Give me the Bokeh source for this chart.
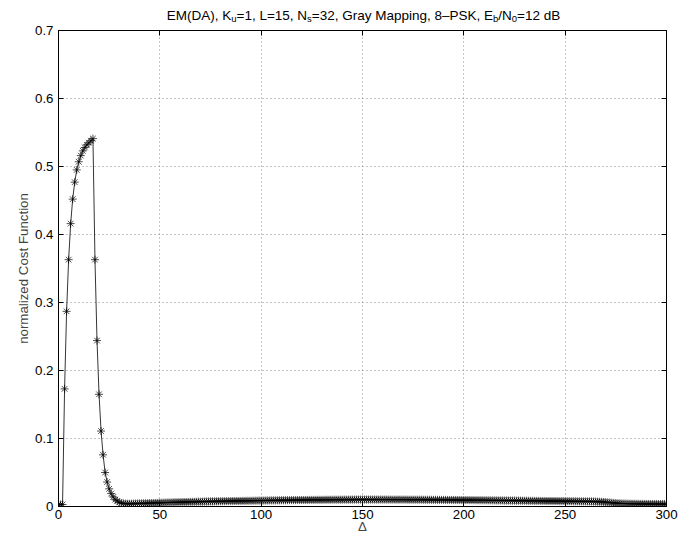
from bokeh.plotting import figure
from bokeh.layouts import column
from bokeh.models import (LinearAxis, FixedTicker, NumeralTickFormatter,
                          Range1d, CustomJSTickFormatter, ColumnDataSource)
from bokeh.core.properties import value
from bokeh.embed import file_html
from bokeh.resources import INLINE

# ---------------- data ----------------
x_ticks = [0, 50, 100, 150, 200, 250, 300]
y_ticks = [0, 0.1, 0.2, 0.3, 0.4, 0.5, 0.6, 0.7]

delta = list(range(0, 301))
cost = [
    0.003, 0.003, 0.003, 0.173, 0.287, 0.363, 0.416, 0.452, 0.477, 0.495,
    0.507, 0.516, 0.523, 0.528, 0.532, 0.535, 0.538, 0.541, 0.363, 0.244,
    0.165, 0.111, 0.076, 0.050, 0.036, 0.026, 0.019, 0.014, 0.010, 0.008,
    0.006, 0.005, 0.0045, 0.0042, 0.004, 0.004, 0.0041, 0.0042, 0.0043, 0.0044,
    0.0045, 0.0046, 0.0047, 0.0048, 0.0049, 0.005, 0.0051, 0.0052, 0.0053, 0.0054,
    0.0055, 0.0056, 0.0057, 0.0058, 0.0059, 0.006, 0.0061, 0.0062, 0.0062, 0.0063,
    0.0064, 0.0065, 0.0066, 0.0066, 0.0067, 0.0068, 0.0069, 0.0069, 0.007, 0.0071,
    0.0071, 0.0072, 0.0073, 0.0073, 0.0074, 0.0075, 0.0075, 0.0076, 0.0076, 0.0077,
    0.0077, 0.0078, 0.0078, 0.0079, 0.0079, 0.008, 0.008, 0.0081, 0.0081, 0.0082,
    0.0082, 0.0083, 0.0083, 0.0084, 0.0084, 0.0085, 0.0085, 0.0086, 0.0086, 0.0087,
    0.0087, 0.0088, 0.0088, 0.0089, 0.0089, 0.009, 0.009, 0.009, 0.0091, 0.0091,
    0.0092, 0.0092, 0.0092, 0.0093, 0.0093, 0.0094, 0.0094, 0.0094, 0.0095, 0.0095,
    0.0095, 0.0096, 0.0096, 0.0096, 0.0097, 0.0097, 0.0097, 0.0098, 0.0098, 0.0098,
    0.0098, 0.0099, 0.0099, 0.0099, 0.0099, 0.01, 0.01, 0.01, 0.01, 0.01,
    0.01, 0.0101, 0.0101, 0.0101, 0.0101, 0.0101, 0.0102, 0.0102, 0.0102, 0.0102,
    0.0102, 0.0102, 0.0102, 0.0102, 0.0102, 0.0102, 0.0102, 0.0102, 0.0102, 0.0102,
    0.0102, 0.0102, 0.0102, 0.0102, 0.0101, 0.0101, 0.0101, 0.0101, 0.0101, 0.0101,
    0.0101, 0.0101, 0.01, 0.01, 0.01, 0.01, 0.01, 0.01, 0.01, 0.01,
    0.0099, 0.0099, 0.0099, 0.0099, 0.0099, 0.0098, 0.0098, 0.0098, 0.0098, 0.0098,
    0.0097, 0.0097, 0.0097, 0.0097, 0.0096, 0.0096, 0.0096, 0.0096, 0.0095, 0.0095,
    0.0095, 0.0095, 0.0094, 0.0094, 0.0094, 0.0093, 0.0093, 0.0093, 0.0092, 0.0092,
    0.0092, 0.0091, 0.0091, 0.0091, 0.009, 0.009, 0.009, 0.0089, 0.0089, 0.0089,
    0.0088, 0.0088, 0.0088, 0.0087, 0.0087, 0.0087, 0.0086, 0.0086, 0.0086, 0.0085,
    0.0085, 0.0085, 0.0084, 0.0084, 0.0084, 0.0083, 0.0083, 0.0083, 0.0082, 0.0082,
    0.0082, 0.0081, 0.0081, 0.0081, 0.008, 0.008, 0.008, 0.0079, 0.0079, 0.0079,
    0.0078, 0.0078, 0.0078, 0.0077, 0.0077, 0.0077, 0.0076, 0.0076, 0.0076, 0.0075,
    0.0075, 0.0075, 0.0074, 0.0074, 0.0073, 0.0072, 0.0071, 0.007, 0.0068, 0.0066,
    0.0064, 0.0061, 0.0058, 0.0055, 0.0052, 0.005, 0.0048, 0.0046, 0.0045, 0.0044,
    0.0043, 0.0042, 0.0041, 0.0041, 0.004, 0.004, 0.0039, 0.0039, 0.0039, 0.0038,
    0.0038, 0.0038, 0.0037, 0.0037, 0.0037, 0.0037, 0.0036, 0.0036, 0.0036, 0.0036, 0.0036,
]
assert len(cost) == len(delta)

title_parts = [("EM(DA), K", False), ("u", True), ("=1, L=15, N", False), ("s", True),
               ("=32, Gray Mapping, 8\u2013PSK, E", False), ("b", True), ("/N", False),
               ("0", True), ("=12 dB", False)]
x_label = "\u0394"
y_label = "normalized Cost Function"

# ---------------- layout ----------------
FONT = "Liberation Sans"
TOTAL_W, TITLE_H, MAIN_H = 700, 24, 518
FL, FR = 58, 666  # frame left/right in page pixels

p = figure(width=TOTAL_W, height=MAIN_H, output_backend="svg", toolbar_location=None,
           x_range=Range1d(0, 300), y_range=Range1d(0, 0.7),
           min_border_left=FL, min_border_right=TOTAL_W - FR, min_border_top=6,
           min_border_bottom=36, background_fill_color="white",
           border_fill_color="white")
p.outline_line_color = "black"
p.outline_line_width = 1

src = ColumnDataSource(dict(x=delta, y=cost))
p.line("x", "y", source=src, line_color="black", line_width=0.8)
p.scatter("x", "y", source=src, marker="asterisk", size=8, line_color="black",
          line_width=0.7)

def style_axis(ax, labels=True):
    ax.major_tick_in = 5
    ax.major_tick_out = 0
    ax.minor_tick_line_color = None
    ax.axis_line_color = "black"
    ax.major_tick_line_color = "black"
    ax.major_label_text_font = FONT
    ax.major_label_text_font_size = "13.3px"
    ax.major_label_text_color = "black"
    if not labels:
        ax.formatter = CustomJSTickFormatter(code="return ''")
        ax.major_label_standoff = 0

xa = p.xaxis[0]
xa.ticker = FixedTicker(ticks=x_ticks)
style_axis(xa)
xa.major_label_standoff = 3
xa.axis_label = x_label
xa.axis_label_text_font = FONT
xa.axis_label_text_font_size = "13.3px"
xa.axis_label_text_font_style = "normal"
xa.axis_label_standoff = -3

ya = p.yaxis[0]
ya.ticker = FixedTicker(ticks=y_ticks)
ya.formatter = NumeralTickFormatter(format="0.[0]")
style_axis(ya)
ya.major_label_standoff = 5
ya.axis_label = y_label
ya.axis_label_text_font = FONT
ya.axis_label_text_font_size = "13.3px"
ya.axis_label_text_font_style = "normal"
ya.axis_label_standoff = 1

top = LinearAxis(ticker=FixedTicker(ticks=x_ticks))
style_axis(top, labels=False)
p.add_layout(top, "above")
right = LinearAxis(ticker=FixedTicker(ticks=y_ticks))
style_axis(right, labels=False)
p.add_layout(right, "right")

p.xgrid.ticker = FixedTicker(ticks=x_ticks)
p.ygrid.ticker = FixedTicker(ticks=y_ticks)
for g in (p.xgrid[0], p.ygrid[0]):
    g.grid_line_color = "#8c8c8c"
    g.grid_line_dash = "1 3"
    g.grid_line_width = 1

# ---------------- title strip with subscripts ----------------
# (the column aligns this strip's frame with the main frame: data x = page px)
W = {" ": 278, "(": 333, ")": 333, ",": 278, ".": 278, "/": 278, "=": 584,
     "\u2013": 556, "A": 667, "B": 667, "D": 722, "E": 667, "G": 778, "K": 667,
     "L": 556, "M": 833, "N": 722, "P": 667, "S": 667, "a": 556, "b": 556,
     "d": 556, "g": 556, "i": 222, "n": 556, "p": 556, "r": 333, "s": 500,
     "u": 556, "y": 500}
MAIN, SUB = 13.5, 9.5
def width(t, fs):
    return sum(W.get(c, 556) for c in t) * fs / 1000.0

t = figure(width=TOTAL_W, height=TITLE_H, output_backend="svg", toolbar_location=None,
           x_range=Range1d(FL, FR), y_range=Range1d(0, TITLE_H),
           x_axis_type=None, y_axis_type=None,
           min_border_left=FL, min_border_right=TOTAL_W - FR, min_border_top=0,
           min_border_bottom=0, background_fill_color="white",
           border_fill_color="white")
t.grid.visible = False
t.outline_line_color = None

total = sum(width(s, SUB if sub else MAIN) for s, sub in title_parts)
cx = (FL + FR) / 2 + 1 - total / 2
main_x, main_t, sub_x, sub_t = [], [], [], []
for s, sub in title_parts:
    fs = SUB if sub else MAIN
    (sub_x if sub else main_x).append(cx)
    (sub_t if sub else main_t).append(s)
    cx += width(s, fs)
t.text(x=main_x, y=[TITLE_H - 14.5] * len(main_x), text=main_t,
       text_font=value(FONT), text_font_size=f"{MAIN}px", text_align="left",
       text_baseline="alphabetic", text_color="black")
t.text(x=sub_x, y=[TITLE_H - 18] * len(sub_x), text=sub_t,
       text_font=value(FONT), text_font_size=f"{SUB}px", text_align="left",
       text_baseline="alphabetic", text_color="black")

layout = column(t, p, spacing=0)
open("out.html", "w").write(file_html(layout, INLINE))
